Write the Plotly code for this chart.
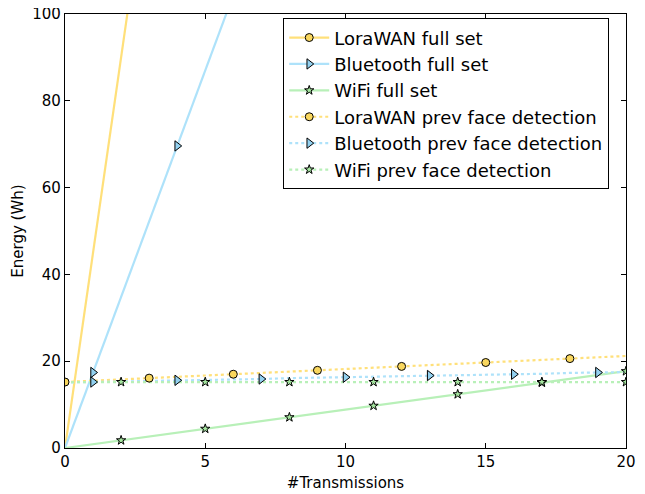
import plotly.graph_objects as go

# ---- data ----
transmissions = [0, 1, 2, 3, 4, 5, 6, 7, 8, 9, 10, 11, 12, 13, 14, 15, 16, 17, 18, 19, 20]

lora_full = [0, 45, 90, 135, 180, 225, 270, 315, 360, 405, 450, 495, 540, 585, 630, 675, 720, 765, 810, 855, 900]
bt_full = [0, 17.4, 34.8, 52.2, 69.6, 87.0, 104.4, 121.8, 139.2, 156.6, 174.0, 191.4, 208.8, 226.2, 243.6,
           261.0, 278.4, 295.8, 313.2, 330.6, 348.0]
wifi_full = [0, 0.89, 1.77, 2.66, 3.54, 4.43, 5.31, 6.20, 7.08, 7.97, 8.85, 9.74, 10.62, 11.51, 12.39,
             13.28, 14.16, 15.05, 15.93, 16.82, 17.70]

lora_prev = [15.2, 15.5, 15.8, 16.1, 16.4, 16.7, 17.0, 17.3, 17.6, 17.9, 18.2, 18.5, 18.8, 19.1, 19.4,
             19.7, 20.0, 20.3, 20.6, 20.9, 21.2]
bt_prev = [15.1, 15.2, 15.3, 15.5, 15.6, 15.7, 15.8, 15.9, 16.1, 16.2, 16.3, 16.4, 16.5, 16.7, 16.8,
           16.9, 17.0, 17.1, 17.3, 17.4, 17.5]
wifi_prev = [15.2, 15.2, 15.2, 15.2, 15.2, 15.2, 15.2, 15.2, 15.2, 15.2, 15.2, 15.2, 15.2, 15.2, 15.2,
             15.2, 15.2, 15.2, 15.2, 15.2, 15.2]

# index of first marked point (markers every 3rd point)
mark_starts = [3, 1, 2, 0, 1, 2]

series_names = ["LoraWAN full set", "Bluetooth full set", "WiFi full set",
                "LoraWAN prev face detection", "Bluetooth prev face detection", "WiFi prev face detection"]

# ---- styles ----
YEL_LINE, YEL_FILL = "#FFE07A", "#F9D75E"
BLU_LINE, BLU_FILL = "#AEE2FA", "#93D1F0"
GRN_LINE, GRN_FILL = "#B8F0B8", "#A6E6A0"

specs = [
    (series_names[0], lora_full, YEL_LINE, YEL_FILL, "circle", 8, "solid"),
    (series_names[1], bt_full, BLU_LINE, BLU_FILL, "triangle-right", 9, "solid"),
    (series_names[2], wifi_full, GRN_LINE, GRN_FILL, "star", 7, "solid"),
    (series_names[3], lora_prev, YEL_LINE, YEL_FILL, "circle", 8, "dot"),
    (series_names[4], bt_prev, BLU_LINE, BLU_FILL, "triangle-right", 9, "dot"),
    (series_names[5], wifi_prev, GRN_LINE, GRN_FILL, "star", 7, "dot"),
]

fig = go.Figure()
for name, ys, lc, fc, sym, ms, dash in specs:
    fig.add_trace(go.Scatter(x=transmissions, y=ys, mode="lines",
                             line=dict(color=lc, width=2.2, dash=dash),
                             showlegend=False, hoverinfo="skip"))
for (name, ys, lc, fc, sym, ms, dash), start in zip(specs, mark_starts):
    fig.add_trace(go.Scatter(x=transmissions[start::3], y=ys[start::3], mode="markers",
                             marker=dict(symbol=sym, size=ms, color=fc,
                                         line=dict(color="black", width=1)),
                             showlegend=False, cliponaxis=True))
for i, (name, ys, lc, fc, sym, ms, dash) in enumerate(specs):
    fig.add_trace(go.Scatter(x=[None], y=[None], mode="lines+markers", name=name,
                             legendgroup=f"g{i}",
                             line=dict(color=lc, width=2.2, dash=dash),
                             marker=dict(symbol=sym, size=ms, color=fc,
                                         line=dict(color="black", width=1))))

axis_common = dict(showline=True, linecolor="black", linewidth=1.3, mirror="allticks",
                   ticks="inside", ticklen=5, tickwidth=1, tickcolor="black",
                   showgrid=False, zeroline=False, automargin=False,
                   ticklabeloverflow="allow",
                   tickfont=dict(family="DejaVu Sans", size=15, color="black"))

# the page body adds an 8px margin, so the figure is offset by 8px
fig.update_layout(
    width=629, height=486,
    margin=dict(l=57, r=11, t=6, b=46),
    plot_bgcolor="white", paper_bgcolor="white",
    font=dict(family="DejaVu Sans", color="black"),
    xaxis=dict(range=[0, 20], tickvals=[0, 5, 10, 15, 20],
               title=dict(text="#Transmissions", font=dict(size=15), standoff=7), **axis_common),
    yaxis=dict(range=[0, 100], tickvals=[0, 20, 40, 60, 80, 100],
               title=dict(text="Energy (Wh)", font=dict(size=15), standoff=4), **axis_common),
    legend=dict(x=0.389, y=0.99, xanchor="left", yanchor="top",
                bgcolor="white", bordercolor="black", borderwidth=1,
                font=dict(family="DejaVu Sans", size=18, color="black"),
                traceorder="grouped", tracegroupgap=0, itemwidth=40),
)

fig.write_html("out.html")
